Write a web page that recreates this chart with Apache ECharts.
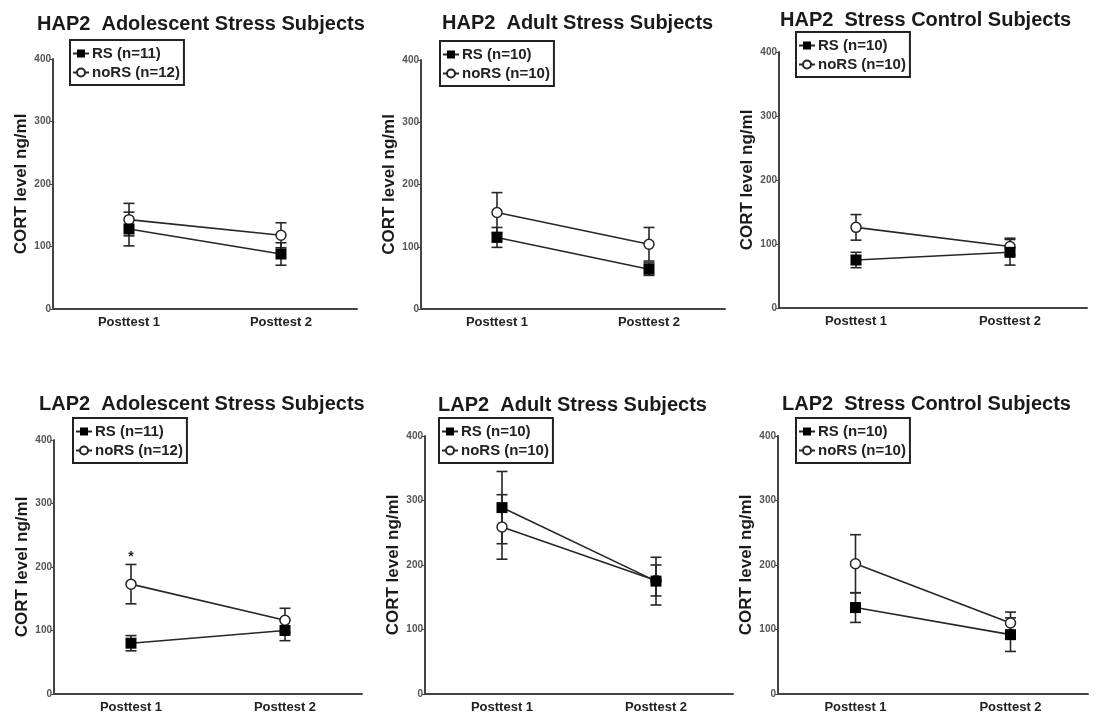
<!DOCTYPE html>
<html>
<head>
<meta charset="utf-8">
<script src="https://cdn.jsdelivr.net/npm/echarts@6/dist/echarts.min.js"></script>
<style>
  html, body { margin: 0; padding: 0; background: #fff; }
  #main { width: 1096px; height: 719px; }
</style>
</head>
<body>
<div id="main"></div>
<script>
// 数据
var categories = ['Posttest 1', 'Posttest 2'];
var titles = [
    'HAP2  Adolescent Stress Subjects',
    'HAP2  Adult Stress Subjects',
    'HAP2  Stress Control Subjects',
    'LAP2  Adolescent Stress Subjects',
    'LAP2  Adult Stress Subjects',
    'LAP2  Stress Control Subjects'
];
var yTicks = [0, 100, 200, 300, 400];
var rsN   = [11, 10, 10, 11, 10, 10];
var norsN = [12, 10, 10, 12, 10, 10];
var rsMean   = [[128, 88], [115, 64], [75, 87], [80, 100], [289, 175], [134, 92]];
var rsSem    = [[27, 18], [16, 10], [12, 20], [12, 16], [56, 37], [23, 26]];
var norsMean = [[143, 118], [155, 104], [126, 96], [173, 116], [259, 176], [202, 110]];
var norsSem  = [[26, 20], [32, 27], [20, 13], [31, 19], [50, 24], [45, 17]];
var sigMarks = [[], [], [], [[0, 216]], [], []];   // 显著性星号

// 布局
var gridBox = [
    {left: 53,  top: 59,  width: 304, height: 250},
    {left: 421, top: 60,  width: 304, height: 249},
    {left: 779, top: 52,  width: 308, height: 256},
    {left: 54,  top: 440, width: 308, height: 254},
    {left: 425, top: 436, width: 308, height: 258},
    {left: 778, top: 436, width: 310, height: 258}
];
var titlePos  = [[37, 14], [442, 13], [780, 10], [39, 394], [438, 395], [782, 394]];
var legendPos = [[70, 40], [440, 41], [796, 32], [73, 418], [439, 418], [796, 418]];

var AXIS_COLOR = '#444', LINE_COLOR = '#262626';

var myChart = echarts.init(document.getElementById('main'), null, {renderer: 'canvas'});

var option = {
    animation: false,
    backgroundColor: '#fff',
    title: [], legend: [], grid: [], xAxis: [], yAxis: [], series: []
};

function errBar(params, api) {
    var x = api.value(0);
    var lo = api.coord([x, api.value(1)]);
    var hi = api.coord([x, api.value(2)]);
    var cap = 5.5;
    var st = {stroke: LINE_COLOR, lineWidth: 1.6};
    return {
        type: 'group',
        children: [
            {type: 'line', shape: {x1: lo[0], y1: lo[1], x2: hi[0], y2: hi[1]}, style: st},
            {type: 'line', shape: {x1: lo[0] - cap, y1: lo[1], x2: lo[0] + cap, y2: lo[1]}, style: st},
            {type: 'line', shape: {x1: hi[0] - cap, y1: hi[1], x2: hi[0] + cap, y2: hi[1]}, style: st}
        ]
    };
}

function starMark(params, api) {
    var p = api.coord([api.value(0), api.value(1)]);
    return {
        type: 'text', x: p[0], y: p[1],
        style: {text: '*', fill: '#222', font: 'bold 14px "Liberation Sans", Arial', align: 'center', verticalAlign: 'middle'}
    };
}

for (let i = 0; i < 6; i++) {
    let rsName = 'RS (n=' + rsN[i] + ')';
    let norsName = 'noRS (n=' + norsN[i] + ')';

    option.title.push({
        text: titles[i], left: titlePos[i][0], top: titlePos[i][1], padding: 0,
        textStyle: {fontFamily: '"Liberation Sans", Arial', fontSize: 20, fontWeight: 'bold', color: '#1a1a1a'}
    });
    option.legend.push({
        data: [rsName, norsName],
        orient: 'vertical',
        left: legendPos[i][0], top: legendPos[i][1],
        borderColor: '#222', borderWidth: 2,
        padding: [6, 4, 5, 2],
        itemGap: 4, itemWidth: 16, itemHeight: 10,
        selectedMode: false,
        textStyle: {fontFamily: '"Liberation Sans", Arial', fontSize: 15, fontWeight: 'bold', color: '#222', padding: [0, 0, 0, -2]}
    });
    option.grid.push(Object.assign({containLabel: false}, gridBox[i]));
    option.xAxis.push({
        type: 'category', gridIndex: i, data: categories,
        axisLine: {lineStyle: {color: AXIS_COLOR, width: 2}},
        axisTick: {alignWithLabel: true, length: 4, lineStyle: {color: AXIS_COLOR}},
        axisLabel: {margin: 7, fontFamily: '"Liberation Sans", Arial', fontSize: 13, fontWeight: 'bold', color: '#222'}
    });
    option.yAxis.push({
        type: 'value', gridIndex: i, min: yTicks[0], max: yTicks[yTicks.length - 1], interval: 100,
        name: 'CORT level ng/ml', nameLocation: 'middle', nameGap: 23,
        nameTextStyle: {fontFamily: '"Liberation Sans", Arial', fontSize: 17, fontWeight: 'bold', color: '#1a1a1a'},
        axisLine: {show: true, lineStyle: {color: AXIS_COLOR, width: 2}},
        axisTick: {show: true, length: 3, lineStyle: {color: AXIS_COLOR}},
        splitLine: {show: false},
        axisLabel: {margin: 2, fontFamily: '"Liberation Sans", Arial', fontSize: 10, fontWeight: 'bold', color: '#555'}
    });

    // 误差线
    option.series.push({
        type: 'custom', xAxisIndex: i, yAxisIndex: i, z: 1, silent: true,
        renderItem: errBar,
        data: norsMean[i].map((m, k) => [k, m - norsSem[i][k], m + norsSem[i][k]])
    });
    option.series.push({
        type: 'custom', xAxisIndex: i, yAxisIndex: i, z: 1, silent: true,
        renderItem: errBar,
        data: rsMean[i].map((m, k) => [k, m - rsSem[i][k], m + rsSem[i][k]])
    });
    option.series.push({
        name: norsName, type: 'line', xAxisIndex: i, yAxisIndex: i, z: 2,
        data: norsMean[i],
        symbol: 'circle', symbolSize: 10,
        lineStyle: {color: LINE_COLOR, width: 1.6},
        itemStyle: {color: '#fff', borderColor: LINE_COLOR, borderWidth: 1.5}
    });
    option.series.push({
        name: rsName, type: 'line', xAxisIndex: i, yAxisIndex: i, z: 3,
        data: rsMean[i],
        symbol: 'rect', symbolSize: 11,
        lineStyle: {color: LINE_COLOR, width: 1.6},
        itemStyle: {color: '#000', borderColor: '#000', borderWidth: 0}
    });
    if (sigMarks[i].length) {
        option.series.push({
            type: 'custom', xAxisIndex: i, yAxisIndex: i, z: 4, silent: true,
            renderItem: starMark, data: sigMarks[i]
        });
    }
}

myChart.setOption(option);
</script>
</body>
</html>
